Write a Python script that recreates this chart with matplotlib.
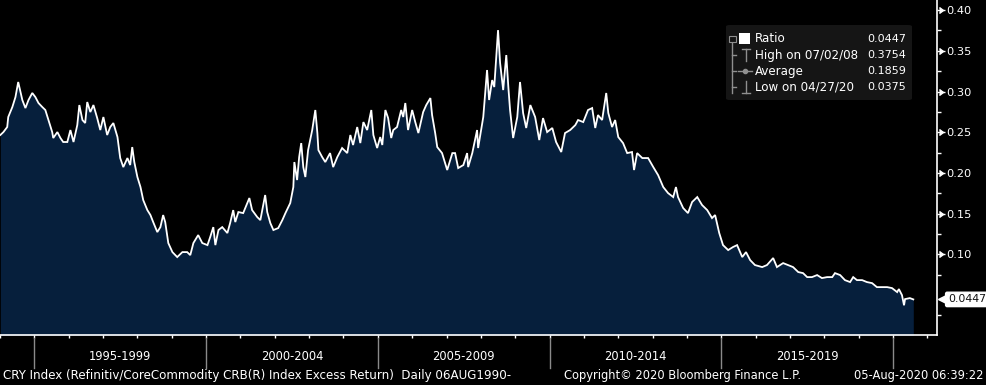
import matplotlib
matplotlib.use('Agg')
import matplotlib.pyplot as plt
import matplotlib.transforms as mtransforms
from matplotlib.patches import FancyBboxPatch, Rectangle
from matplotlib.lines import Line2D

# CRY index ratio (decimal years)
years = [1994.01, 1994.10, 1994.21, 1994.24, 1994.36, 1994.45, 1994.53, 1994.65, 1994.74, 1994.83,
         1994.94, 1995.03, 1995.12, 1995.23, 1995.32, 1995.41, 1995.52, 1995.55, 1995.67, 1995.76,
         1995.84, 1995.96, 1996.05, 1996.14, 1996.25, 1996.31, 1996.40, 1996.48, 1996.54, 1996.63,
         1996.72, 1996.83, 1996.92, 1997.01, 1997.12, 1997.21, 1997.30, 1997.42, 1997.50, 1997.59,
         1997.71, 1997.79, 1997.85, 1997.91, 1998.00, 1998.09, 1998.17, 1998.29, 1998.38, 1998.46,
         1998.58, 1998.67, 1998.75, 1998.81, 1998.90, 1999.02, 1999.16, 1999.31, 1999.45, 1999.54,
         1999.63, 1999.77, 1999.89, 2000.04, 2000.12, 2000.21, 2000.27, 2000.36, 2000.47, 2000.62,
         2000.70, 2000.79, 2000.85, 2000.94, 2001.08, 2001.26, 2001.34, 2001.49, 2001.58, 2001.72,
         2001.78, 2001.87, 2001.96, 2002.10, 2002.22, 2002.31, 2002.45, 2002.54, 2002.57, 2002.65,
         2002.71, 2002.77, 2002.83, 2002.89, 2002.97, 2003.09, 2003.18, 2003.24, 2003.27, 2003.38,
         2003.47, 2003.61, 2003.70, 2003.82, 2003.96, 2004.11, 2004.20, 2004.28, 2004.40, 2004.49,
         2004.58, 2004.69, 2004.81, 2004.87, 2004.98, 2005.07, 2005.13, 2005.22, 2005.30, 2005.39,
         2005.45, 2005.56, 2005.68, 2005.74, 2005.80, 2005.88, 2006.00, 2006.09, 2006.18, 2006.32,
         2006.41, 2006.53, 2006.58, 2006.67, 2006.73, 2006.87, 2007.02, 2007.17, 2007.25, 2007.34,
         2007.49, 2007.60, 2007.63, 2007.75, 2007.89, 2007.92, 2008.07, 2008.18, 2008.24, 2008.33,
         2008.39, 2008.50, 2008.56, 2008.65, 2008.74, 2008.80, 2008.85, 2008.94, 2009.06, 2009.14,
         2009.23, 2009.32, 2009.44, 2009.58, 2009.70, 2009.81, 2009.93, 2010.08, 2010.19, 2010.34,
         2010.45, 2010.60, 2010.75, 2010.83, 2010.98, 2011.12, 2011.24, 2011.33, 2011.41, 2011.53,
         2011.65, 2011.71, 2011.82, 2011.91, 2012.00, 2012.14, 2012.26, 2012.40, 2012.46, 2012.55,
         2012.70, 2012.87, 2013.02, 2013.16, 2013.31, 2013.45, 2013.60, 2013.68, 2013.74, 2013.89,
         2014.03, 2014.15, 2014.30, 2014.44, 2014.59, 2014.73, 2014.82, 2014.94, 2015.05, 2015.20,
         2015.34, 2015.46, 2015.61, 2015.72, 2015.84, 2015.98, 2016.19, 2016.33, 2016.51, 2016.62,
         2016.80, 2016.94, 2017.09, 2017.24, 2017.38, 2017.50, 2017.64, 2017.79, 2017.93, 2018.08,
         2018.23, 2018.31, 2018.46, 2018.60, 2018.75, 2018.84, 2018.95, 2019.10, 2019.24, 2019.39,
         2019.53, 2019.68, 2019.83, 2019.97, 2020.12, 2020.17, 2020.26, 2020.32, 2020.35, 2020.49,
         2020.59]
ratio = [0.2466, 0.2502, 0.2564, 0.2687, 0.2810, 0.2932, 0.3117, 0.2896, 0.2797, 0.2896,
         0.2982, 0.2932, 0.2859, 0.2810, 0.2773, 0.2650, 0.2502, 0.2429, 0.2502, 0.2429,
         0.2380, 0.2380, 0.2527, 0.2380, 0.2588, 0.2834, 0.2650, 0.2613, 0.2871, 0.2748,
         0.2834, 0.2674, 0.2527, 0.2687, 0.2466, 0.2564, 0.2613, 0.2441, 0.2183, 0.2072,
         0.2183, 0.2097, 0.2318, 0.2134, 0.1950, 0.1827, 0.1667, 0.1544, 0.1483, 0.1397,
         0.1274, 0.1335, 0.1483, 0.1397, 0.1139, 0.1028, 0.0967, 0.1028, 0.1028, 0.0991,
         0.1139, 0.1237, 0.1139, 0.1114, 0.1213, 0.1335, 0.1114, 0.1299, 0.1335, 0.1262,
         0.1385, 0.1544, 0.1397, 0.1520, 0.1507, 0.1692, 0.1544, 0.1458, 0.1421, 0.1729,
         0.1520, 0.1385, 0.1299, 0.1323, 0.1421, 0.1507, 0.1630, 0.1827, 0.2134, 0.1913,
         0.2195, 0.2367, 0.2072, 0.1950, 0.2281, 0.2527, 0.2773, 0.2490, 0.2281, 0.2195,
         0.2134, 0.2244, 0.2072, 0.2195, 0.2306, 0.2244, 0.2466, 0.2343, 0.2564, 0.2367,
         0.2625, 0.2527, 0.2773, 0.2466, 0.2306, 0.2441, 0.2343, 0.2773, 0.2674, 0.2429,
         0.2527, 0.2564, 0.2773, 0.2687, 0.2859, 0.2527, 0.2773, 0.2625, 0.2490, 0.2748,
         0.2834, 0.2920, 0.2711, 0.2490, 0.2318, 0.2244, 0.2036, 0.2244, 0.2244, 0.2060,
         0.2097, 0.2244, 0.2072, 0.2244, 0.2527, 0.2306, 0.2687, 0.3264, 0.2896, 0.3141,
         0.3055, 0.3754, 0.3350, 0.3018, 0.3448, 0.3055, 0.2773, 0.2429, 0.2687, 0.3117,
         0.2736, 0.2552, 0.2834, 0.2687, 0.2404, 0.2674, 0.2502, 0.2552, 0.2380, 0.2257,
         0.2490, 0.2527, 0.2588, 0.2650, 0.2625, 0.2773, 0.2797, 0.2552, 0.2711, 0.2650,
         0.2982, 0.2736, 0.2564, 0.2650, 0.2441, 0.2367, 0.2244, 0.2257, 0.2036, 0.2244,
         0.2183, 0.2183, 0.2072, 0.1974, 0.1827, 0.1753, 0.1704, 0.1827, 0.1704, 0.1569,
         0.1507, 0.1643, 0.1704, 0.1606, 0.1544, 0.1446, 0.1483, 0.1262, 0.1114, 0.1053,
         0.1090, 0.1114, 0.0967, 0.1028, 0.0930, 0.0869, 0.0844, 0.0869, 0.0955, 0.0844,
         0.0893, 0.0869, 0.0844, 0.0783, 0.0770, 0.0721, 0.0721, 0.0746, 0.0709, 0.0721,
         0.0721, 0.0770, 0.0746, 0.0684, 0.0660, 0.0721, 0.0684, 0.0684, 0.0660, 0.0647,
         0.0598, 0.0598, 0.0598, 0.0586, 0.0537, 0.0574, 0.0500, 0.0375, 0.0451, 0.0463,
         0.0447]

# legend stats
last_val = 0.0447
high_val = 0.3754
high_date = '07/02/08'
avg_val = 0.1859
low_val = 0.0375
low_date = '04/27/20'

period_starts = [1995, 2000, 2005, 2010, 2015, 2020]
period_labels = ['1995-1999', '2000-2004', '2005-2009', '2010-2014', '2015-2019']
year_ticks = list(range(1994, 2022))
y_major = [0.10, 0.15, 0.20, 0.25, 0.30, 0.35, 0.40]
y_minor = [0.025, 0.075, 0.125, 0.175, 0.225, 0.275, 0.325, 0.375]

footer_left = 'CRY Index (Refinitiv/CoreCommodity CRB(R) Index Excess Return)  Daily 06AUG1990-'
footer_mid = 'Copyright\u00a9 2020 Bloomberg Finance L.P.'
footer_right = '05-Aug-2020 06:39:22'

plt.rcParams['font.family'] = ['DejaVu Sans']
W, H = 987, 385
fig = plt.figure(figsize=(W / 100, H / 100), dpi=100, facecolor='black')


def fx(x):
    return x / W


def fy(y):
    return 1 - y / H


ax = fig.add_axes([0, fy(335), fx(937), 335 / H])
ax.set_facecolor('black')
ax.fill_between(years, ratio, 0, color='#061f3c', lw=0)
ax.plot(years, ratio, color='white', lw=1.3, solid_joinstyle='miter')
ax.set_xlim(1994.0, 2021.28)
ax.set_ylim(0.001, 0.4124)

for s in ['left', 'top']:
    ax.spines[s].set_visible(False)
for s in ['right', 'bottom']:
    ax.spines[s].set_color('white')
    ax.spines[s].set_linewidth(1.2)

ax.yaxis.tick_right()
ax.set_yticks(y_major)
ax.set_yticklabels(['%.2f' % v for v in y_major])
ax.set_yticks(y_minor, minor=True)
ax.tick_params(axis='y', which='major', colors='white', length=5.5, width=1, pad=1.5, labelsize=8.2)
ax.tick_params(axis='y', which='minor', colors='white', length=3, width=1)
ax.set_xticks(year_ticks)
ax.set_xticklabels([])
ax.tick_params(axis='x', which='major', colors='white', length=2.5, width=1)

# little carets at the major y ticks
ytrans = mtransforms.blended_transform_factory(ax.transAxes, ax.transData)
ax.plot([1.0065] * len(y_major), y_major, ls='none', marker=5, ms=4, color='white',
        transform=ytrans, clip_on=False)

# period separators and labels under the axis
xtrans = mtransforms.blended_transform_factory(ax.transData, ax.transAxes)
for s in period_starts:
    ax.plot([s, s], [-0.008, -0.098], color='#8a8a8a', lw=1, transform=xtrans, clip_on=False)
for s, lab in zip(period_starts, period_labels):
    ax.text(s + 2.5, -0.064, lab, transform=xtrans, ha='center', va='center',
            color='white', fontsize=8.3)

# last value tag on the right axis
ax.text(1.0115, last_val, '%.4f' % last_val, transform=ytrans, ha='left', va='center',
        color='#111111', fontsize=7.9,
        bbox=dict(boxstyle='round,pad=0.2,rounding_size=0.15', fc='white', ec='white'))
ax.plot([1.0065], [last_val], ls='none', marker='<', ms=6.5, color='white',
        transform=ytrans, clip_on=False)

# legend box (Bloomberg style)
box = FancyBboxPatch((fx(726), fy(100)), fx(912) - fx(726), fy(25) - fy(100),
                     boxstyle='round,pad=0,rounding_size=0.004', transform=fig.transFigure,
                     fc='#151515', ec='none', zorder=5)
fig.patches.append(box)
gray = '#8f8f8f'
rows = [39, 55, 71, 87]
labels = ['Ratio', 'High on ' + high_date, 'Average', 'Low on ' + low_date]
values = [last_val, high_val, avg_val, low_val]


def fline(xs, ys, **kw):
    fig.lines.append(Line2D([fx(v) for v in xs], [fy(v) for v in ys],
                            transform=fig.transFigure, zorder=6, **kw))


# tree lines
fline([732, 732], [42, 93], color=gray, lw=1)
for r in rows[1:]:
    fline([732, 736], [r, r], color=gray, lw=1)
# collapse box
fig.patches.append(Rectangle((fx(729), fy(42)), fx(7), 6 / H, transform=fig.transFigure,
                             fc='#151515', ec=gray, lw=0.8, zorder=7))
fline([730.5, 734.5], [39, 39], color=gray, lw=0.8)
# ratio swatch
fig.patches.append(Rectangle((fx(739), fy(44)), fx(11), 11 / H, transform=fig.transFigure,
                             fc='white', ec='none', zorder=7))
# high marker
fline([742, 750], [49, 49], color=gray, lw=1)
fline([746, 746], [49, 61], color=gray, lw=1)
# average marker
fline([738, 752], [71, 71], color=gray, lw=1)
fig.lines.append(Line2D([fx(745)], [fy(71)], marker='o', ms=3, color=gray, ls='none',
                        transform=fig.transFigure, zorder=7))
# low marker
fline([746, 746], [81, 93], color=gray, lw=1)
fline([742, 750], [93, 93], color=gray, lw=1)

for r, lab, v in zip(rows, labels, values):
    fig.text(fx(755), fy(r), lab, ha='left', va='center', color='white', fontsize=8.6, zorder=8)
    fig.text(fx(906), fy(r), '%.4f' % v, ha='right', va='center', color='white',
             fontsize=8.0, zorder=8)

# footer
fig.text(fx(3), fy(376), footer_left, ha='left', va='center', color='white', fontsize=8.6)
fig.text(fx(564), fy(376), footer_mid, ha='left', va='center', color='white', fontsize=8.3)
fig.text(fx(984), fy(376), footer_right, ha='right', va='center', color='white', fontsize=8.3)

fig.savefig('out.png', dpi=100, facecolor='black')
